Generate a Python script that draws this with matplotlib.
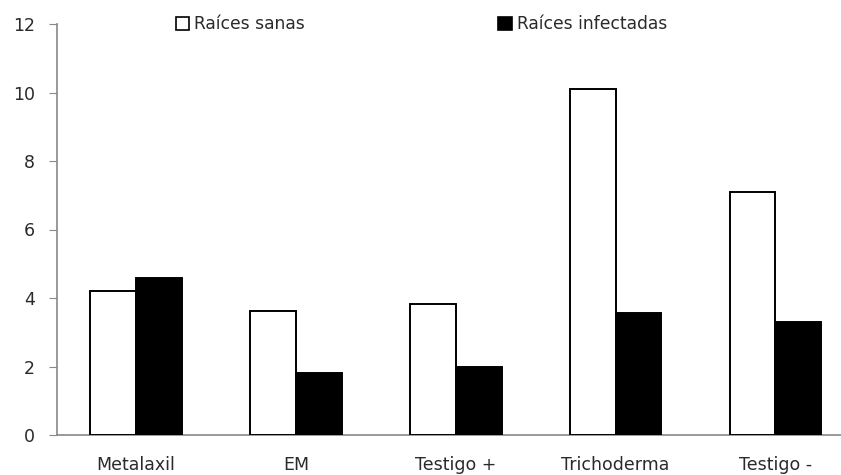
import numpy as np
import matplotlib.pyplot as plt
from matplotlib.patches import Patch

categorias = ['Metalaxil', 'EM', 'Testigo +', 'Trichoderma', 'Testigo -']
sanas = [4.2, 3.62, 3.83, 10.1, 7.1]
infectadas = [4.58, 1.82, 2.0, 3.55, 3.31]

plt.rcParams['font.family'] = ['DejaVu Sans']

fig = plt.figure(figsize=(8.41, 4.75), dpi=100)
ax = fig.add_axes([57/841, 40/475, 1 - 57/841, 411/475])

x = np.arange(len(categorias))
w = 0.287
ax.bar(x - w/2, sanas, w, color='white', edgecolor='black', linewidth=1.4, zorder=3)
ax.bar(x + w/2, infectadas, w, color='black', edgecolor='black', linewidth=1.4, zorder=3)

ax.set_xlim(-0.494, 4.41)
ax.set_ylim(0, 12)
ax.set_yticks(range(0, 13, 2))
ax.set_xticks(x)
ax.set_xticklabels(categorias, fontsize=12.5, color='#2a2a2a')
ax.tick_params(axis='x', length=0, pad=15)
ax.tick_params(axis='y', length=6, direction='out', color='#888888', labelsize=12.5,
               labelcolor='#2a2a2a', pad=10)
for s in ['top', 'right']:
    ax.spines[s].set_visible(False)
for s in ['left', 'bottom']:
    ax.spines[s].set_color('#888888')
    ax.spines[s].set_linewidth(1.2)

handles = [Patch(facecolor='white', edgecolor='black', linewidth=1.2),
           Patch(facecolor='black', edgecolor='black', linewidth=1.2)]
fig.legend(handles, ['Raíces sanas', 'Raíces infectadas'], ncol=2, loc='center',
           bbox_to_anchor=(0.501, 451/475), frameon=False, fontsize=12.3,
           handlelength=0.8, handleheight=0.8, handletextpad=0.3, columnspacing=11.3,
           labelcolor='#2a2a2a')

fig.savefig('out.png', dpi=100)
